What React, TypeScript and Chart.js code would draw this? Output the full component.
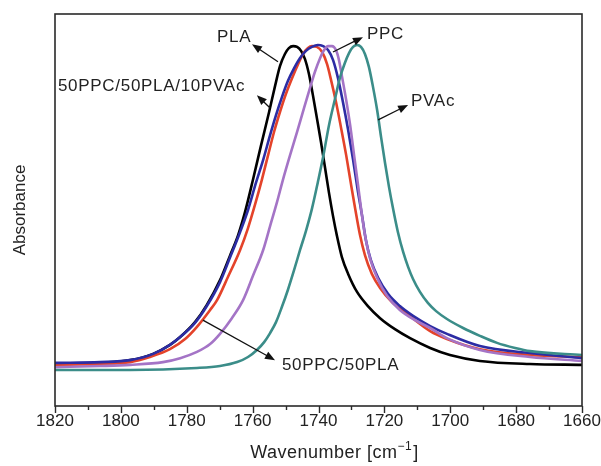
import React, { useEffect, useRef } from 'react';
import { Chart, registerables } from 'chart.js';

Chart.register(...registerables);

// ---- data (wavenumber in cm^-1, absorbance in arbitrary units) ----
const PLA_WN = [1820, 1806.3, 1797.2, 1790.2, 1785.1, 1782.0, 1777.5, 1773.9, 1769.9, 1766.9, 1764.4, 1762.3, 1759.9, 1757.5, 1755.0, 1753.2, 1751.7, 1750.2, 1749.0, 1747.7, 1746.5, 1745.3, 1744.1, 1742.9, 1741.7, 1740.5, 1739.2, 1738.0, 1736.8, 1735.6, 1734.4, 1732.9, 1731.0, 1728.3, 1725.0, 1721.3, 1716.8, 1712.2, 1706.1, 1700.1, 1691.0, 1675.8, 1660];
const PLA_ABS = [0.107, 0.110, 0.117, 0.133, 0.156, 0.176, 0.214, 0.258, 0.321, 0.383, 0.436, 0.495, 0.577, 0.663, 0.750, 0.816, 0.867, 0.898, 0.913, 0.918, 0.916, 0.906, 0.885, 0.847, 0.793, 0.735, 0.671, 0.607, 0.543, 0.485, 0.434, 0.380, 0.337, 0.291, 0.255, 0.224, 0.196, 0.173, 0.148, 0.130, 0.115, 0.107, 0.105];

const BLEND_WN = [1820, 1806.3, 1797.2, 1790.2, 1785.1, 1782.0, 1777.5, 1773.9, 1769.9, 1766.9, 1763.8, 1761.4, 1759.0, 1756.8, 1754.7, 1752.9, 1751.1, 1749.3, 1747.4, 1745.6, 1743.8, 1742.0, 1740.2, 1738.6, 1737.1, 1735.6, 1734.1, 1732.6, 1731.0, 1729.5, 1728.0, 1726.8, 1725.6, 1724.1, 1721.9, 1718.9, 1715.3, 1711.3, 1706.1, 1701.0, 1691.0, 1675.8, 1660];
const BLEND_ABS = [0.110, 0.112, 0.117, 0.133, 0.156, 0.176, 0.212, 0.255, 0.316, 0.378, 0.444, 0.500, 0.569, 0.628, 0.691, 0.742, 0.788, 0.829, 0.862, 0.888, 0.906, 0.916, 0.921, 0.918, 0.908, 0.883, 0.837, 0.776, 0.704, 0.628, 0.546, 0.487, 0.423, 0.372, 0.327, 0.286, 0.255, 0.230, 0.204, 0.184, 0.153, 0.135, 0.122];

const PPC_PLA_WN = [1820, 1806.3, 1797.2, 1791.2, 1785.1, 1780.5, 1776.9, 1772.9, 1770.8, 1767.5, 1763.8, 1761.4, 1759.3, 1757.2, 1755.3, 1753.5, 1751.7, 1749.9, 1748.0, 1746.2, 1744.7, 1743.2, 1742.0, 1740.5, 1738.9, 1737.4, 1736.2, 1734.7, 1733.2, 1731.6, 1730.1, 1728.9, 1727.4, 1725.9, 1723.8, 1721.3, 1717.7, 1713.1, 1706.1, 1701.0, 1691.0, 1675.8, 1660];
const PPC_PLA_ABS = [0.105, 0.107, 0.112, 0.125, 0.145, 0.171, 0.202, 0.245, 0.270, 0.329, 0.398, 0.454, 0.513, 0.577, 0.640, 0.699, 0.750, 0.796, 0.837, 0.872, 0.898, 0.913, 0.918, 0.916, 0.903, 0.872, 0.832, 0.776, 0.712, 0.640, 0.564, 0.505, 0.436, 0.385, 0.337, 0.301, 0.265, 0.235, 0.191, 0.171, 0.145, 0.130, 0.125];

const PPC_WN = [1820, 1806.3, 1797.2, 1787.2, 1782.0, 1776.9, 1772.9, 1769.9, 1766.3, 1762.9, 1759.9, 1756.8, 1754.7, 1752.6, 1750.8, 1748.7, 1746.5, 1744.4, 1742.6, 1741.1, 1739.5, 1738.3, 1737.1, 1735.9, 1734.7, 1733.8, 1732.9, 1731.6, 1730.4, 1729.2, 1728.0, 1727.1, 1725.9, 1724.4, 1722.2, 1719.2, 1715.3, 1710.7, 1706.1, 1701.0, 1691.0, 1675.8, 1660];
const PPC_ABS = [0.099, 0.102, 0.105, 0.112, 0.122, 0.138, 0.158, 0.184, 0.224, 0.270, 0.332, 0.398, 0.459, 0.520, 0.577, 0.638, 0.699, 0.760, 0.811, 0.852, 0.888, 0.908, 0.918, 0.918, 0.908, 0.883, 0.842, 0.781, 0.717, 0.640, 0.564, 0.505, 0.436, 0.378, 0.327, 0.281, 0.245, 0.219, 0.199, 0.173, 0.143, 0.125, 0.115];

const PVAC_WN = [1820, 1797.2, 1776.9, 1769.9, 1764.7, 1761.4, 1758.7, 1756.5, 1754.7, 1752.9, 1751.1, 1749.3, 1747.4, 1745.6, 1743.8, 1742.0, 1740.2, 1738.6, 1736.8, 1735.0, 1733.5, 1732.0, 1730.7, 1729.5, 1728.3, 1727.1, 1725.9, 1724.7, 1723.5, 1722.2, 1721.0, 1719.8, 1718.6, 1717.4, 1715.9, 1714.3, 1712.8, 1711.3, 1709.2, 1706.8, 1704.3, 1701.0, 1696.1, 1691.0, 1685.8, 1680.3, 1675.8, 1660];
const PVAC_ABS = [0.092, 0.092, 0.097, 0.102, 0.112, 0.125, 0.143, 0.163, 0.186, 0.214, 0.253, 0.296, 0.347, 0.398, 0.447, 0.503, 0.571, 0.635, 0.717, 0.783, 0.837, 0.875, 0.901, 0.916, 0.921, 0.916, 0.898, 0.865, 0.816, 0.755, 0.686, 0.620, 0.559, 0.505, 0.444, 0.393, 0.355, 0.324, 0.291, 0.263, 0.242, 0.222, 0.199, 0.179, 0.161, 0.148, 0.140, 0.130];

const SERIES_NAMES = ['PVAc', 'PPC', '50PPC/50PLA/10PVAc', '50PPC/50PLA', 'PLA'];
const SERIES_COLORS = ['#3b8d89', '#a474c6', '#2c2ca4', '#e4432a', '#000000'];

const X_MIN = 1660;
const X_MAX = 1820;
const MAJOR_TICKS = [1820, 1800, 1780, 1760, 1740, 1720, 1700, 1680, 1660];
const MINOR_TICKS = [1810, 1790, 1770, 1750, 1730, 1710, 1690, 1670];

// annotation labels: text anchor (wavenumber, absorbance) and arrow from -> to
const LABEL_TEXTS = ['PLA', '50PPC/50PLA/10PVAc', 'PPC', 'PVAc', '50PPC/50PLA'];
const LABEL_POS = [[1770.8, 0.941], [1819.1, 0.816], [1725.3, 0.949], [1711.9, 0.776], [1751.1, 0.105]];
const ARROW_FROM = [[1752.3, 0.878], [1754.7, 0.76], [1735.6, 0.903], [1721.9, 0.73], [1775.1, 0.219]];
const ARROW_TO = [[1760.2, 0.923], [1758.7, 0.793], [1726.5, 0.941], [1712.8, 0.768], [1753.2, 0.117]];

const FONT = '"Liberation Sans", Arial, Helvetica, sans-serif';
const TEXT_COLOR = '#222222';

function zip(xs: number[], ys: number[]) {
  return xs.map((x, i) => ({ x, y: ys[i] }));
}

const SERIES_DATA = [
  zip(PVAC_WN, PVAC_ABS),
  zip(PPC_WN, PPC_ABS),
  zip(BLEND_WN, BLEND_ABS),
  zip(PPC_PLA_WN, PPC_PLA_ABS),
  zip(PLA_WN, PLA_ABS),
];

const decorPlugin = {
  id: 'decor',
  afterDraw(chart: any) {
    const ctx = chart.ctx as CanvasRenderingContext2D & { letterSpacing?: string };
    const xs = chart.scales.x;
    const ys = chart.scales.y;
    const a = chart.chartArea;
    ctx.save();
    // frame
    ctx.strokeStyle = '#2a2a2a';
    ctx.lineWidth = 1.6;
    ctx.strokeRect(a.left, a.top, a.right - a.left, a.bottom - a.top);
    // ticks
    ctx.lineWidth = 1.4;
    MAJOR_TICKS.forEach((v) => {
      const px = Math.round(xs.getPixelForValue(v)) + 0.5;
      ctx.beginPath();
      ctx.moveTo(px, a.bottom);
      ctx.lineTo(px, a.bottom + 7);
      ctx.stroke();
    });
    MINOR_TICKS.forEach((v) => {
      const px = Math.round(xs.getPixelForValue(v)) + 0.5;
      ctx.beginPath();
      ctx.moveTo(px, a.bottom);
      ctx.lineTo(px, a.bottom + 4);
      ctx.stroke();
    });
    // annotations
    ctx.fillStyle = TEXT_COLOR;
    ctx.font = `17px ${FONT}`;
    ctx.letterSpacing = '0.7px';
    ctx.textBaseline = 'middle';
    ctx.textAlign = 'left';
    LABEL_TEXTS.forEach((t, i) => {
      const tx = xs.getPixelForValue(LABEL_POS[i][0]);
      const ty = ys.getPixelForValue(LABEL_POS[i][1]);
      ctx.fillStyle = TEXT_COLOR;
      ctx.fillText(t, tx, ty);
      const x1 = xs.getPixelForValue(ARROW_FROM[i][0]);
      const y1 = ys.getPixelForValue(ARROW_FROM[i][1]);
      const x2 = xs.getPixelForValue(ARROW_TO[i][0]);
      const y2 = ys.getPixelForValue(ARROW_TO[i][1]);
      const ang = Math.atan2(y2 - y1, x2 - x1);
      const hl = 10;
      const hw = 4;
      ctx.strokeStyle = '#111';
      ctx.lineWidth = 1.3;
      ctx.beginPath();
      ctx.moveTo(x1, y1);
      ctx.lineTo(x2 - hl * Math.cos(ang) * 0.8, y2 - hl * Math.sin(ang) * 0.8);
      ctx.stroke();
      ctx.fillStyle = '#111';
      ctx.beginPath();
      ctx.moveTo(x2, y2);
      ctx.lineTo(x2 - hl * Math.cos(ang) - hw * Math.sin(ang), y2 - hl * Math.sin(ang) + hw * Math.cos(ang));
      ctx.lineTo(x2 - hl * Math.cos(ang) + hw * Math.sin(ang), y2 - hl * Math.sin(ang) - hw * Math.cos(ang));
      ctx.closePath();
      ctx.fill();
    });
    ctx.fillStyle = TEXT_COLOR;
    // x axis title with superscript
    const main = 'Wavenumber [cm';
    const sup = '\u22121';
    const end = ']';
    ctx.letterSpacing = '0.5px';
    ctx.font = `18px ${FONT}`;
    const w1 = ctx.measureText(main).width;
    const w3 = ctx.measureText(end).width;
    ctx.font = `12px ${FONT}`;
    const w2 = ctx.measureText(sup).width;
    const total = w1 + w2 + w3;
    const cx = 334;
    const x0 = cx - total / 2;
    const ty = 453;
    ctx.textAlign = 'left';
    ctx.font = `18px ${FONT}`;
    ctx.fillText(main, x0, ty);
    ctx.font = `12px ${FONT}`;
    ctx.fillText(sup, x0 + w1, ty - 6);
    ctx.font = `18px ${FONT}`;
    ctx.fillText(end, x0 + w1 + w2 + 1, ty);
    // y axis title
    ctx.letterSpacing = '0px';
    ctx.font = `17px ${FONT}`;
    ctx.save();
    ctx.translate(20, (a.top + a.bottom) / 2);
    ctx.rotate(-Math.PI / 2);
    ctx.textAlign = 'center';
    ctx.fillText('Absorbance', 0, 0);
    ctx.restore();
    ctx.restore();
  },
};

export default function App() {
  const ref = useRef<HTMLCanvasElement | null>(null);
  useEffect(() => {
    if (!ref.current) return;
    const chart = new Chart(ref.current, {
      type: 'line',
      data: {
        datasets: SERIES_DATA.map((d, i) => ({
          label: SERIES_NAMES[i],
          data: d,
          borderColor: SERIES_COLORS[i],
          backgroundColor: SERIES_COLORS[i],
          borderWidth: 2.6,
          pointRadius: 0,
          cubicInterpolationMode: 'monotone' as const,
          fill: false,
        })),
      },
      options: {
        animation: false,
        responsive: false,
        devicePixelRatio: 1,
        layout: { padding: { left: 55, right: 19, top: 14, bottom: 0 } },
        plugins: { legend: { display: false }, tooltip: { enabled: false } },
        scales: {
          x: {
            type: 'linear',
            min: X_MIN,
            max: X_MAX,
            reverse: true,
            grid: { display: false, drawTicks: false },
            border: { display: false },
            ticks: {
              stepSize: 20,
              padding: 5,
              color: TEXT_COLOR,
              font: { family: FONT, size: 17 },
              maxRotation: 0,
              autoSkip: false,
              callback: (v: any) => String(v),
            },
            afterFit: (s: any) => {
              s.height = 60;
              s.paddingLeft = 0;
              s.paddingRight = 0;
            },
          },
          y: {
            display: false,
            min: 0,
            max: 1,
          },
        },
      },
      plugins: [decorPlugin],
    });
    return () => chart.destroy();
  }, []);
  return (
    <div style={{ position: 'fixed', left: 0, top: 0, width: 601, height: 466, background: '#fff' }}>
      <canvas ref={ref} width={601} height={466} />
    </div>
  );
}
